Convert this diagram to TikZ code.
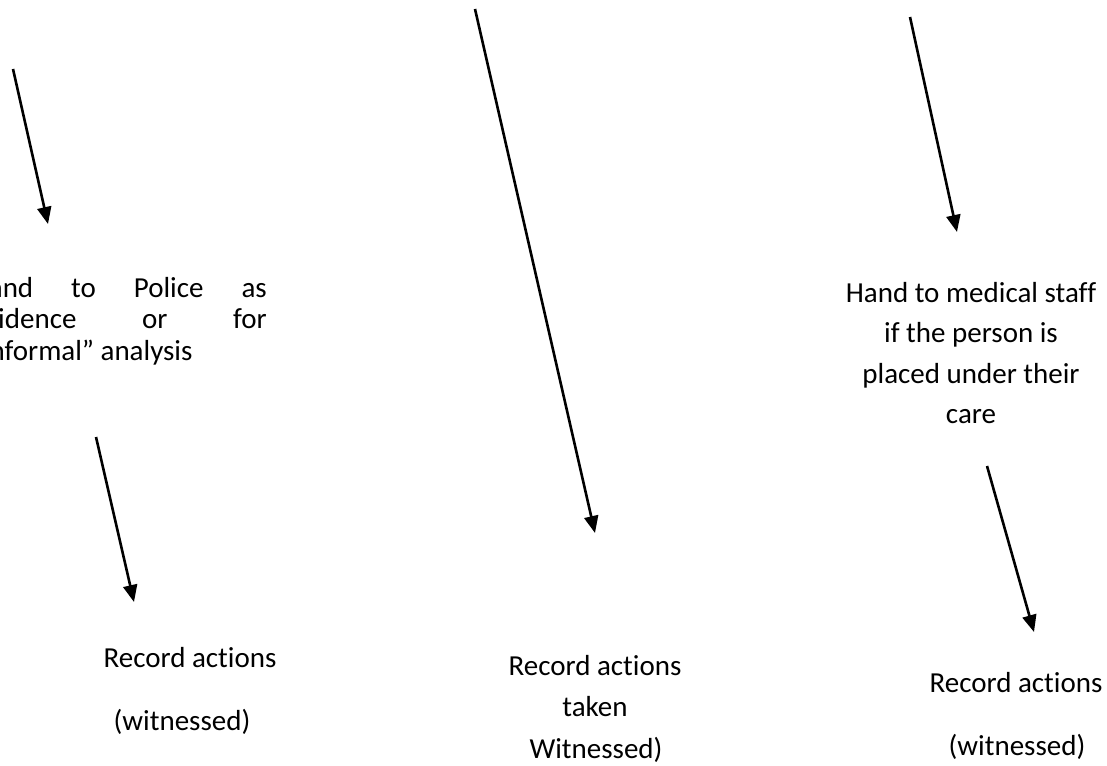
\documentclass[tikz,border=0pt]{standalone}
\usepackage{fontspec}
\setmainfont{Carlito}[Ligatures=NoCommon]
\usetikzlibrary{arrows.meta}
\begin{document}
\begin{tikzpicture}[x=1pt,y=-1pt,
  lbl/.style={inner sep=0pt,font=\fontsize{29}{40.5}\selectfont},
  conn/.style={line width=2.6pt,-{Triangle[length=17pt,width=14pt]}}]
\useasboundingbox (0,0) rectangle (1107,765);
\clip (0,0) rectangle (1107,765);
% left column
\node[lbl,anchor=east,text width=296pt,align=justify,
  font=\fontsize{29}{31.5}\selectfont]
  (police) at (267,321) {Hand to Police as\linebreak evidence or for\linebreak “informal” analysis};
\node[lbl] (recL) at (190,658) {Record actions};
\node[lbl] (witL) at (182,722) {(witnessed)};
% centre column
\node[lbl] (recC) at (595,666) {Record actions};
\node[lbl] (takC) at (595,707) {taken};
\node[lbl] (witC) at (596,750) {Witnessed)};
% right column
\node[lbl,align=center] (medical) at (971,353) {Hand to medical staff\\if the person is\\placed under their\\care};
\node[lbl] (recR) at (1016,683) {Record actions};
\node[lbl] (witR) at (1017,747) {(witnessed)};
% arrow end points
\coordinate (a1s) at (13,69);   \coordinate (a1e) at (48,224);
\coordinate (a2s) at (96,437);  \coordinate (a2e) at (134,602);
\coordinate (a3s) at (475,9);   \coordinate (a3e) at (595,533);
\coordinate (a4s) at (910,17);  \coordinate (a4e) at (957,232);
\coordinate (a5s) at (987,466); \coordinate (a5e) at (1034,632);
\draw[conn] (a1s) -- (a1e);
\draw[conn] (a2s) -- (a2e);
\draw[conn] (a3s) -- (a3e);
\draw[conn] (a4s) -- (a4e);
\draw[conn] (a5s) -- (a5e);
\end{tikzpicture}
\end{document}
